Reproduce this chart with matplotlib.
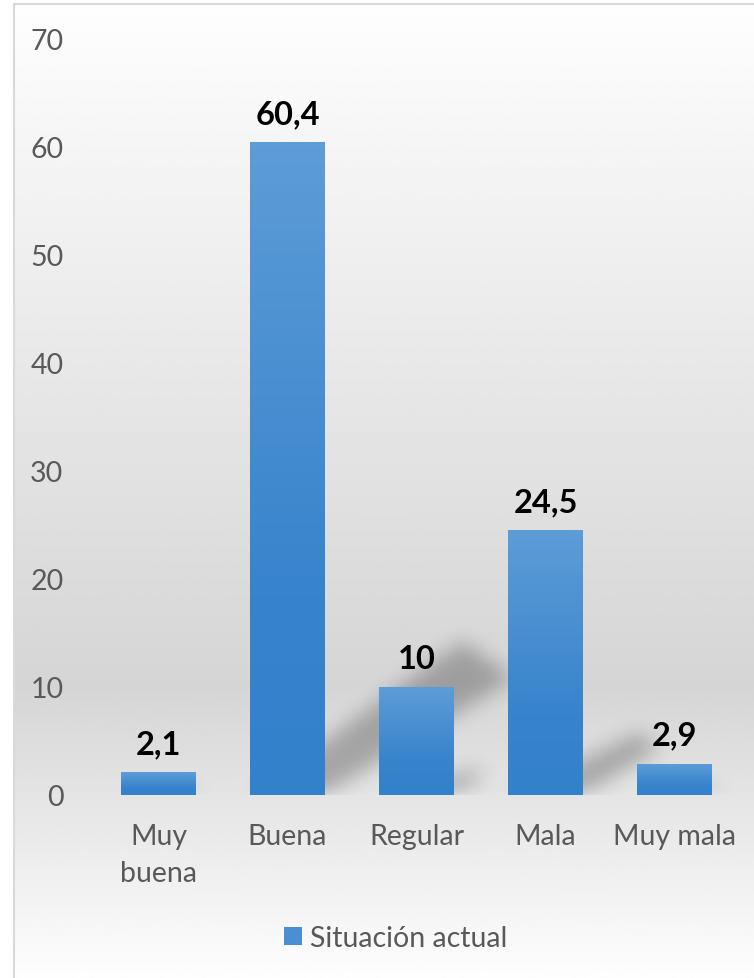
#!/usr/bin/env python3

import matplotlib
matplotlib.use('Agg')
import matplotlib.pyplot as plt
import numpy as np
from matplotlib.path import Path
from matplotlib.patches import Rectangle
from matplotlib.colors import LinearSegmentedColormap

# ---------------- DATA ----------------
categories = ['Muy\nbuena', 'Buena', 'Regular', 'Mala', 'Muy mala']
values = [2.1, 60.4, 10, 24.5, 2.9]
value_labels = ['2,1', '60,4', '10', '24,5', '2,9']
series_name = 'Situación actual'
y_ticks = [0, 10, 20, 30, 40, 50, 60, 70]

plt.rcParams['font.family'] = ['Lato', 'DejaVu Sans']

W, H = 754, 979
fig = plt.figure(figsize=(W / 100, H / 100), dpi=100)

# ---------------- BACKGROUND ----------------
bg_ax = fig.add_axes([14 / W, 0, 1 - 14 / W, 1 - 4.5 / H], zorder=0)
rows = np.linspace(0, 1, 400)
stops_y = [0.0, 0.70, 1.0]
stops_v = [0.995, 0.835, 0.995]
col = np.interp(rows, stops_y, stops_v)
grad = np.repeat(col[:, None], 2, axis=1)
bg_ax.imshow(grad, cmap='gray', vmin=0, vmax=1, aspect='auto',
             extent=[0, 1, 0, 1], origin='upper')
bg_ax.axis('off')

fig.patches.append(Rectangle((14 / W, -0.01), 1.0, 1 - 4.5 / H + 0.01,
                             transform=fig.transFigure, fill=False,
                             edgecolor='#d9d9d9', linewidth=1.5, zorder=1))

# ---------------- MAIN AXES ----------------
ax_l, ax_r = 94 / W, 739 / W
ax_b, ax_t = (H - 796) / H, (H - 39) / H
ax = fig.add_axes([ax_l, ax_b, ax_r - ax_l, ax_t - ax_b], zorder=2)
ax.set_facecolor('none')

x = np.arange(len(categories))
bars = ax.bar(x, values, width=0.58, color='#4a8fd3', zorder=3,
              label=series_name)

ax.set_xlim(-0.5, len(categories) - 0.5)
ax.set_ylim(0, 70)
ax.set_yticks(y_ticks)
ax.set_xticks(x)
ax.set_xticklabels(categories, linespacing=1.55)
ax.tick_params(axis='both', length=0, labelsize=20.5, labelcolor='#595959')
ax.tick_params(axis='x', pad=20)
ax.tick_params(axis='y', pad=22)
for s in ax.spines.values():
    s.set_visible(False)

# gradient fill for each bar
bar_cmap = LinearSegmentedColormap.from_list(
    'bar', [(0, '#5d9cd7'), (0.7, '#3783cc'), (1, '#3481cb')])
bar_grad = np.linspace(0, 1, 100)[:, None]
for b in bars:
    bx, by = b.get_x(), b.get_y()
    bw, bh = b.get_width(), b.get_height()
    im = ax.imshow(bar_grad, cmap=bar_cmap, origin='upper',
                   extent=[bx, bx + bw, by, by + bh], aspect='auto',
                   zorder=3.5, interpolation='bilinear')
    im.set_clip_path(b)

# value labels
for b, lab in zip(bars, value_labels):
    ax.annotate(lab, (b.get_x() + b.get_width() / 2, b.get_height()),
                textcoords='offset points', xytext=(0, 10), ha='center',
                va='bottom', fontsize=23.5, fontweight='bold', color='black',
                zorder=5)

# ---------------- SHADOWS ----------------
fig.canvas.draw()
bbox = ax.get_window_extent()
pw, ph = int(round(bbox.width)), int(round(bbox.height))
gx, gy = np.meshgrid(np.arange(pw) + 0.5, np.arange(ph) + 0.5)
pts = np.column_stack([gx.ravel(), gy.ravel()])
mask = np.zeros(pw * ph)
for b in bars:
    (x0, y0), (x1, y1) = ax.transData.transform(
        [(b.get_x(), 0), (b.get_x() + b.get_width(), b.get_height())])
    x0 -= bbox.x0
    x1 -= bbox.x0
    y0 -= bbox.y0
    hpx = y1 - bbox.y0 - y0
    poly = Path([(x0, y0), (x1, y0),
                 (x1 + 0.29 * hpx, y0 + 0.18 * hpx),
                 (x1 + 0.21 * hpx, y0 + 0.235 * hpx),
                 (x0, y0)])
    mask = np.maximum(mask, poly.contains_points(pts).astype(float))
mask = mask.reshape(ph, pw)


def box_blur(a, r):
    k = np.ones(2 * r + 1) / (2 * r + 1)
    a = np.apply_along_axis(lambda m: np.convolve(m, k, mode='same'), 0, a)
    a = np.apply_along_axis(lambda m: np.convolve(m, k, mode='same'), 1, a)
    return a


for _ in range(3):
    mask = box_blur(mask, 9)

shadow = np.zeros((ph, pw, 4))
shadow[..., 3] = mask * 0.26
ax.imshow(shadow, extent=[0, 1, 0, 1], transform=ax.transAxes,
          origin='lower', aspect='auto', zorder=2, interpolation='bilinear')
ax.set_xlim(-0.5, len(categories) - 0.5)
ax.set_ylim(0, 70)

# ---------------- LEGEND ----------------
fig.legend(handles=[bars], labels=[series_name], loc='center',
           bbox_to_anchor=(0.525, 0.041), frameon=False, fontsize=20.5,
           labelcolor='#595959', handlelength=0.62, handleheight=0.62,
           handletextpad=0.3)

plt.savefig('out.png', dpi=100)
